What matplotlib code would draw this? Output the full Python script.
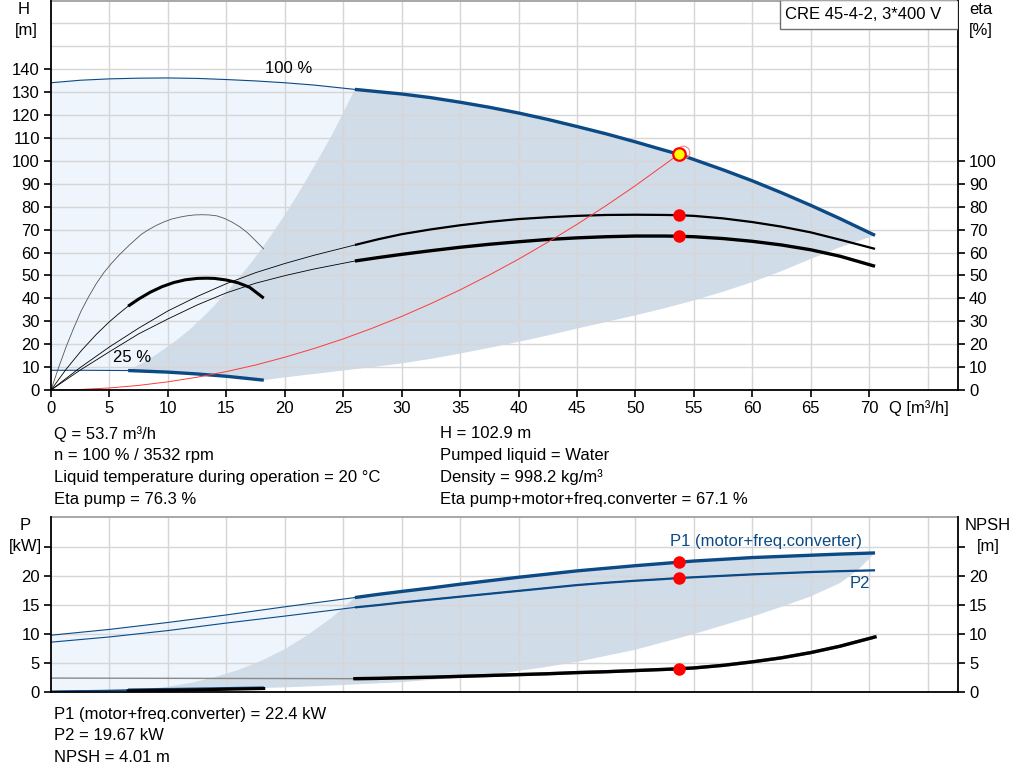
import numpy as np
import matplotlib
matplotlib.use("Agg")
import matplotlib.pyplot as plt
from matplotlib.patches import Rectangle

plt.rcParams['font.family'] = ['Liberation Sans', 'DejaVu Sans']

# ---- data ----
# head at 100 % speed
q_h100 = [0, 2.5, 5, 7.5, 10, 12.5, 15, 17.5, 20, 22.5, 26, 28, 30, 32.5, 35, 37.5, 40,
          42.5, 45, 47.5, 50, 52.5, 53.7, 55, 57.5, 60, 62.5, 65, 67.5, 70.5]
h100 = [134.1, 135.2, 135.8, 136.1, 136.2, 136.0, 135.5, 134.9, 134.1, 133.1, 131.2,
        130.2, 129.2, 127.6, 125.6, 123.4, 120.9, 118.1, 115.0, 111.8, 108.3, 104.6,
        102.9, 100.6, 96.1, 91.3, 86.1, 80.6, 74.8, 67.5]
# head at 25 % speed
q_h25 = [0, 3, 6.6, 10, 12.5, 15, 18.2]
h25 = [8.6, 8.6, 8.5, 7.8, 7.0, 6.0, 4.3]
# operating area borders (head chart)
q_hleft = [6.6, 8, 9, 10, 11, 12, 13, 14, 15, 16, 17, 18, 19, 20, 21, 22, 23, 24, 25, 26]
h_left = [8.5, 12.3, 15.5, 19.0, 22.8, 27.0, 31.8, 37.0, 42.6, 48.5, 54.8, 61.5, 68.8,
          76.5, 84.5, 93.0, 102.0, 111.0, 121.0, 131.2]
q_hlow = [18.2, 20, 22.5, 25, 27.5, 30, 32.5, 35, 37.5, 40, 42.5, 45, 47.5, 50, 52.5,
          55, 57.5, 60, 62.5, 65, 67.5, 70.5]
h_low = [4.3, 5.5, 7.0, 8.5, 10.0, 11.6, 13.6, 15.9, 18.4, 21.0, 23.8, 26.8, 29.7, 32.6,
         35.7, 39.1, 42.9, 47.1, 51.9, 57.2, 62.3, 67.5]
# system curve
q_sys = [0, 2.5, 5, 7.5, 10, 12.5, 15, 17.5, 20, 22.5, 25, 27.5, 30, 32.5, 35, 37.5, 40,
         42.5, 45, 47.5, 50, 52.5, 53.7]
h_sys = [0, 0.22, 0.89, 2.0, 3.57, 5.58, 8.03, 10.9, 14.3, 18.1, 22.3, 27.0, 32.1, 37.7,
         43.7, 50.2, 57.1, 64.5, 72.3, 80.5, 89.2, 98.4, 102.9]
# efficiencies at 100 % speed
q_eta100 = [0, 2.5, 5, 7.5, 10, 12.5, 15, 17.5, 20, 22.5, 26, 28, 30, 32.5, 35, 37.5, 40,
            42.5, 45, 47.5, 50, 52.5, 53.7, 55, 57.5, 60, 62.5, 65, 67.5, 70.5]
eta_pump100 = [0, 9.8, 18.8, 27.0, 34.5, 40.8, 46.4, 51.2, 55.2, 58.8, 63.3, 65.8, 68.0,
               70.1, 71.9, 73.4, 74.6, 75.4, 76.0, 76.4, 76.5, 76.4, 76.3, 76.0, 74.9,
               73.3, 71.3, 68.8, 65.6, 61.6]
eta_tot100 = [0, 8.7, 16.7, 24.5, 31.0, 37.1, 42.4, 46.6, 49.9, 52.8, 56.3, 57.8, 59.2,
              60.8, 62.3, 63.6, 64.7, 65.7, 66.4, 66.9, 67.2, 67.2, 67.1, 66.9, 66.1,
              64.9, 63.3, 61.2, 58.4, 54.0]
# efficiencies at 25 % speed
q_etap25 = [0, 0.65, 1.29, 1.94, 2.58, 3.23, 3.87, 4.52, 5.16, 5.81, 6.71, 7.74, 8.39,
            9.03, 9.68, 10.32, 10.97, 11.61, 12.26, 12.9, 13.55, 14.19, 14.84, 15.48,
            16.13, 16.77, 17.42, 18.19]
eta_pump25 = [0, 9.8, 18.8, 27.0, 34.5, 40.8, 46.4, 51.2, 55.2, 58.8, 63.3, 68.0, 70.1,
              71.9, 73.4, 74.6, 75.4, 76.0, 76.4, 76.5, 76.4, 76.0, 74.9, 73.3, 71.3,
              68.8, 65.6, 61.6]
q_etat25 = [0, 1.3, 2.6, 3.9, 5, 5.8, 6.6, 7.5, 8.5, 9.5, 10.5, 11.5, 12.5, 13.3, 14, 15,
            16, 17, 18.2]
eta_tot25 = [0, 9.1, 17.2, 24.4, 29.8, 33.3, 36.6, 39.7, 42.7, 45.1, 46.9, 48.1, 48.7,
             48.8, 48.7, 48.0, 46.8, 44.8, 40.1]
# power at 100 % speed
q_p100 = [0, 5, 10, 15, 20, 26, 28, 30, 32.5, 35, 37.5, 40, 42.5, 45, 47.5, 50, 52.5,
          53.7, 55, 57.5, 60, 62.5, 65, 67.5, 70.5]
p1_100 = [9.8, 10.8, 12.0, 13.3, 14.7, 16.3, 16.85, 17.35, 17.95, 18.6, 19.2, 19.8,
          20.35, 20.9, 21.35, 21.8, 22.2, 22.4, 22.6, 22.9, 23.2, 23.4, 23.6, 23.8, 24.0]
p2_100 = [8.6, 9.5, 10.6, 11.9, 13.1, 14.6, 15.0, 15.45, 15.95, 16.45, 16.95, 17.45,
          17.95, 18.45, 18.85, 19.2, 19.5, 19.67, 19.8, 20.05, 20.3, 20.5, 20.7, 20.85, 21.0]
# power at 25 % speed
q_p25 = [0, 6.6, 12, 18.2]
p1_25 = [0.15, 0.35, 0.5, 0.7]
p2_25 = [0.1, 0.3, 0.45, 0.6]
# operating area borders (power chart)
q_pleft = [6.6, 8, 10, 12, 14, 16, 18, 20, 22, 24, 26]
p_left = [0.35, 0.5, 0.93, 1.6, 2.55, 3.8, 5.4, 7.4, 9.9, 12.8, 16.3]
q_plow = [18.2, 20, 25, 30, 35, 38.4, 42, 45, 50, 55, 60, 62.5, 65, 67.5, 69, 70.5]
p_low = [0.7, 0.8, 1.2, 1.7, 2.5, 3.2, 4.2, 5.2, 7.3, 10.0, 13.0, 14.7, 16.5, 18.8,
         21.0, 24.0]
# NPSH
q_npsh = [0, 26, 28, 30, 32.5, 35, 37.5, 40, 42.5, 45, 47.5, 50, 52.5, 53.7, 55, 57.5,
          60, 62.5, 65, 67.5, 70.5]
npsh = [2.4, 2.3, 2.35, 2.45, 2.55, 2.7, 2.85, 3.0, 3.15, 3.35, 3.5, 3.7, 3.9, 4.01,
        4.15, 4.6, 5.2, 5.9, 6.8, 7.9, 9.5]
q_npsh25 = [6.6, 12, 18.2]
npsh25 = [0.2, 0.35, 0.6]

# duty point
q_duty = 53.7
h_duty = 102.9
eta_pump_duty = 76.3
eta_tot_duty = 67.1
p1_duty = 22.4
p2_duty = 19.67
npsh_duty = 4.01

info_left = ["Q = 53.7 m³/h", "n = 100 % / 3532 rpm",
             "Liquid temperature during operation = 20 °C", "Eta pump = 76.3 %"]
info_right = ["H = 102.9 m", "Pumped liquid = Water", "Density = 998.2 kg/m³",
              "Eta pump+motor+freq.converter = 67.1 %"]
info_bottom = ["P1 (motor+freq.converter) = 22.4 kW", "P2 = 19.67 kW", "NPSH = 4.01 m"]

BLUE = "#0b4a85"
LIGHT = "#eef5fc"
DARK = "#d0dce8"
GRID = "#d6d6d6"
FS = 12


def part(q, v, lo, hi):
    q = np.asarray(q, float)
    v = np.asarray(v, float)
    m = (q >= lo - 1e-9) & (q <= hi + 1e-9)
    return q[m], v[m]


def curve(ax, q, v, split, color, lw_thin, lw_thick, z=4):
    ax.plot(q, v, color=color, lw=lw_thin, zorder=z, solid_capstyle='butt')
    qq, vv = part(q, v, split, 1e9)
    ax.plot(qq, vv, color=color, lw=lw_thick, zorder=z + 0.1, solid_capstyle='butt',
            solid_joinstyle='round')


def area(ax, q_top, v_top, q_left, v_left, q_bot25, v_bot25, q_low, v_low, qmin, qsplit):
    # light area left of the operating range
    a_q, a_v = part(q_top, v_top, 0, qsplit)
    b_q, b_v = part(q_bot25, v_bot25, 0, qmin)
    xs = np.concatenate([a_q, np.asarray(q_left)[::-1], b_q[::-1]])
    ys = np.concatenate([a_v, np.asarray(v_left)[::-1], b_v[::-1]])
    ax.fill(xs, ys, color=LIGHT, lw=0, zorder=1)
    # operating range
    t_q, t_v = part(q_top, v_top, qsplit, 1e9)
    c_q, c_v = part(q_bot25, v_bot25, qmin, 1e9)
    xs = np.concatenate([t_q, np.asarray(q_low)[::-1], c_q[::-1], q_left])
    ys = np.concatenate([t_v, np.asarray(v_low)[::-1], c_v[::-1], v_left])
    ax.fill(xs, ys, color=DARK, lw=0, zorder=1.1)


def style(ax, ymax, xgrid_max, yg):
    ax.set_xlim(0, 77.6)
    ax.set_ylim(0, ymax)
    for x in range(5, xgrid_max + 1, 5):
        ax.axvline(x, color=GRID, lw=1.0, zorder=1.5)
    for y in yg:
        ax.axhline(y, color=GRID, lw=1.0, zorder=1.5)
    for s in ['left', 'bottom', 'right']:
        ax.spines[s].set_linewidth(1.3)
        ax.spines[s].set_zorder(6)
    ax.spines['top'].set_color('#a0a0a0')
    ax.spines['top'].set_linewidth(1.3)
    ax.tick_params(direction='out', length=5, width=1.2, labelsize=FS, pad=3)


fig = plt.figure(figsize=(10.24, 7.81), dpi=100)
W, H = 1024.0, 781.0

# ---------------- head / efficiency chart ----------------
ax1 = fig.add_axes([51 / W, 1 - 390 / H, 907 / W, 389.5 / H])
style(ax1, 170, 75, range(10, 170, 10))
area(ax1, q_h100, h100, q_hleft, h_left, q_h25, h25, q_hlow, h_low, 6.6, 26)

curve(ax1, q_h100, h100, 26, BLUE, 0.8, 2.4)
curve(ax1, q_h25, h25, 6.6, BLUE, 0.8, 2.4)
ax1.plot(q_etap25, eta_pump25, color='#555555', lw=0.6, zorder=4)
curve(ax1, q_etat25, eta_tot25, 6.6, 'black', 0.6, 2.2)
curve(ax1, q_eta100, eta_pump100, 26, 'black', 0.6, 1.6)
curve(ax1, q_eta100, eta_tot100, 26, 'black', 0.6, 2.4)
ax1.plot(q_sys, h_sys, color='#ff3b3b', lw=0.7, zorder=4.5)

ax1.plot([q_duty, q_duty], [eta_pump_duty, eta_tot_duty], 'o', color='red', ms=9,
         mec='none', zorder=7, ls='none')
ax1.plot([q_duty + 0.35], [h_duty + 1.1], 'o', mfc='none', mec='#ff8080', ms=9,
         mew=0.8, zorder=7)
ax1.plot([q_duty], [h_duty], 'o', mfc='yellow', mec='red', ms=9, mew=1.6, zorder=8)

ax1.text(20.3, 140.4, "100 %", fontsize=FS, ha='center', va='center')
ax1.text(6.9, 14.0, "25 %", fontsize=FS, ha='center', va='center')

ax1.set_xticks(range(0, 75, 5))
ax1.set_yticks(range(0, 150, 10))
ax1r = ax1.twinx()
ax1r.set_ylim(0, 170)
ax1r.set_yticks(range(0, 110, 10))
ax1r.tick_params(direction='out', length=5, width=1.2, labelsize=FS, pad=3)
for s in ax1r.spines.values():
    s.set_visible(False)

ax1.add_patch(Rectangle((0.8038, 0.928), 0.1962, 0.072, transform=ax1.transAxes,
                        facecolor='white', edgecolor='#707070', lw=1.0, zorder=9))
ax1.text(0.895, 0.964, "CRE 45-4-2, 3*400 V", transform=ax1.transAxes,
         fontsize=FS, ha='center', va='center', zorder=10)

fig.text(24 / W, 1 - 10 / H, "H", fontsize=FS, ha='center', va='center')
fig.text(26 / W, 1 - 30 / H, "[m]", fontsize=FS, ha='center', va='center')
fig.text(981 / W, 1 - 10 / H, "eta", fontsize=FS, ha='center', va='center')
fig.text(981 / W, 1 - 30 / H, "[%]", fontsize=FS, ha='center', va='center')
fig.text(889 / W, 1 - 408 / H, "Q [m³/h]", fontsize=FS, ha='left', va='center')

for i, s in enumerate(info_left):
    fig.text(54 / W, 1 - (434 + 21.7 * i) / H, s, fontsize=FS, va='center')
for i, s in enumerate(info_right):
    fig.text(440 / W, 1 - (434 + 21.7 * i) / H, s, fontsize=FS, va='center')

# ---------------- power / NPSH chart ----------------
ax2 = fig.add_axes([51 / W, 1 - 692 / H, 907 / W, 175 / H])
style(ax2, 30.2, 75, range(5, 30, 5))
area(ax2, q_p100, p1_100, q_pleft, p_left, q_p25, p1_25, q_plow, p_low, 6.6, 26)

curve(ax2, q_p100, p1_100, 26, BLUE, 0.8, 2.4)
curve(ax2, q_p100, p2_100, 26, BLUE, 0.8, 1.6)
curve(ax2, q_p25, p1_25, 6.6, BLUE, 0.8, 2.2)
curve(ax2, q_p25, p2_25, 6.6, BLUE, 0.8, 1.6)
ax2.plot(q_npsh25, npsh25, color='black', lw=2.2, zorder=4.2)
curve(ax2, q_npsh, npsh, 26, '#8a8a8a', 1.0, 2.4)
qn, vn = part(q_npsh, npsh, 26, 1e9)
ax2.plot(qn, vn, color='black', lw=2.4, zorder=4.3, solid_joinstyle='round')

ax2.plot([q_duty] * 3, [p1_duty, p2_duty, npsh_duty], 'o', color='red', ms=9,
         mec='none', zorder=7, ls='none')

ax2.text(61.2, 25.9, "P1 (motor+freq.converter)", color=BLUE, fontsize=FS,
         ha='center', va='center')
ax2.text(69.2, 18.65, "P2", color=BLUE, fontsize=FS, ha='center', va='center')

ax2.set_xticks(range(0, 80, 5))
ax2.tick_params(axis='x', length=0, labelbottom=False)
ax2.set_yticks(range(0, 30, 5))
ax2.set_yticklabels(["0", "5", "10", "15", "20", ""])
ax2r = ax2.twinx()
ax2r.set_ylim(0, 30.2)
ax2r.set_yticks(range(0, 30, 5))
ax2r.set_yticklabels(["0", "5", "10", "15", "20", ""])
ax2r.tick_params(direction='out', length=5, width=1.2, labelsize=FS, pad=3)
for s in ax2r.spines.values():
    s.set_visible(False)

fig.text(25 / W, 1 - 526 / H, "P", fontsize=FS, ha='center', va='center')
fig.text(25 / W, 1 - 547 / H, "[kW]", fontsize=FS, ha='center', va='center')
fig.text(988 / W, 1 - 526 / H, "NPSH", fontsize=FS, ha='center', va='center')
fig.text(988 / W, 1 - 547 / H, "[m]", fontsize=FS, ha='center', va='center')

for i, s in enumerate(info_bottom):
    fig.text(54 / W, 1 - (714 + 21.7 * i) / H, s, fontsize=FS, va='center')

fig.savefig("out.png", dpi=100)
